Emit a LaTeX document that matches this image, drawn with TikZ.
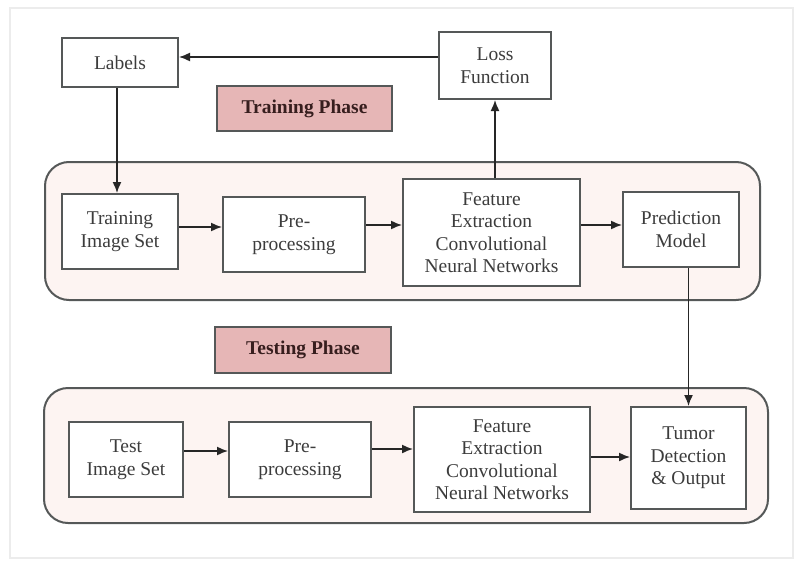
\documentclass[tikz,border=0pt]{standalone}
\usepackage{fontspec}
\setmainfont{Liberation Serif}
\usetikzlibrary{arrows.meta,calc}
\definecolor{frameline}{RGB}{236,236,236}
\definecolor{boxline}{RGB}{85,88,88}
\definecolor{phasefill}{RGB}{230,182,182}
\definecolor{phasetext}{RGB}{55,30,30}
\definecolor{groupfill}{RGB}{253,244,242}
\definecolor{txt}{RGB}{60,60,60}
\tikzset{
  x=1pt, y=-1pt,
  box/.style={draw=boxline, line width=2pt, fill=white, align=center, inner sep=2pt,
              text=txt, font=\fontsize{19.5}{22.5}\selectfont},
  phase/.style={draw=boxline, line width=2pt, fill=phasefill, align=center,
                text=phasetext, font=\fontsize{19.5}{22}\selectfont\bfseries},
  group/.style={draw=boxline, line width=2pt, fill=groupfill, rounded corners=24pt},
  arr/.style={draw=black!85, line width=1.5pt, -{Latex[length=11pt,width=9pt]}}
}
\begin{document}
\begin{tikzpicture}
\useasboundingbox (0,0) rectangle (794,562);
\fill[white] (0,0) rectangle (794,562);
\draw[frameline, line width=2.5pt] (10,8) rectangle (793,558);

% group backgrounds
\draw[group] (45,162) rectangle (760,300);
\draw[group] (44,388) rectangle (768,523);

% top row
\node[box, minimum width=116pt, minimum height=49pt] (labels) at (120,62.5) {Labels};
\node[box, minimum width=112pt, minimum height=67pt] (loss) at (495,65.5) {Loss\\Function};
\node[phase, minimum width=175pt, minimum height=45pt] (trainph) at (304.5,108.5) {Training Phase};

% training row
\node[box, minimum width=116pt, minimum height=75pt] (tis) at (120,231.5) {Training\\Image Set};
\node[box, minimum width=142pt, minimum height=75pt] (pre1) at (294,234.5) {Pre-\\processing};
\node[box, minimum width=177pt, minimum height=107pt] (fe1) at (491.5,232.5) {Feature\\Extraction\\Convolutional\\Neural Networks};
\node[box, minimum width=116pt, minimum height=75pt] (pm) at (681,229.5) {Prediction\\Model};

% testing phase label
\node[phase, minimum width=176pt, minimum height=46pt] (testph) at (303,350) {Testing Phase};

% testing row
\node[box, minimum width=114pt, minimum height=75pt] (tst) at (126,459.5) {Test\\Image Set};
\node[box, minimum width=142pt, minimum height=75pt] (pre2) at (300,459.5) {Pre-\\processing};
\node[box, minimum width=176pt, minimum height=105pt] (fe2) at (502,459.5) {Feature\\Extraction\\Convolutional\\Neural Networks};
\node[box, minimum width=115pt, minimum height=102pt] (tumor) at (688.5,458) {Tumor\\Detection\\\& Output};

% helper coordinates
\coordinate (labin) at ([yshift=5.5pt]labels.east);
\coordinate (labdown) at ([xshift=-3pt]labels.south);
\coordinate (tisout) at ([yshift=4.5pt]tis.east);
\coordinate (pre1out) at ([yshift=9.5pt]pre1.east);
\coordinate (pmin) at ([yshift=4.5pt]pm.west);
\coordinate (tstout) at ([yshift=8.5pt]tst.east);
\coordinate (pre2out) at ([yshift=10.5pt]pre2.east);
\coordinate (tumin) at ([yshift=1pt]tumor.west);

% connectors
\draw[arr] (loss.west |- labin) -- (labin);
\draw[arr] (labdown) -- (labdown |- tis.north);
\draw[arr] (tisout) -- (tisout -| pre1.west);
\draw[arr] (pre1out) -- (pre1out -| fe1.west);
\draw[arr] (pmin -| fe1.east) -- (pmin);
\draw[arr] (loss.south |- fe1.north) -- (loss.south);
\draw[arr] (tumor.north |- pm.south) -- (tumor.north);
\draw[arr] (tstout) -- (tstout -| pre2.west);
\draw[arr] (pre2out) -- (pre2out -| fe2.west);
\draw[arr] (tumin -| fe2.east) -- (tumin);
\end{tikzpicture}
\end{document}
